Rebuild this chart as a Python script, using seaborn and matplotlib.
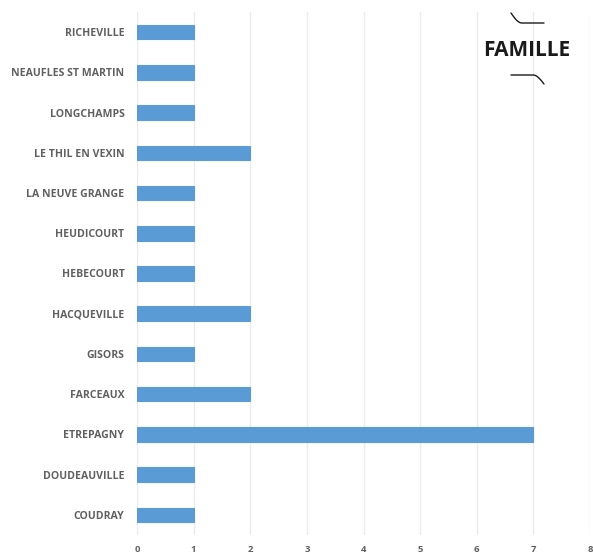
import matplotlib
matplotlib.use("Agg")
import matplotlib.pyplot as plt
import seaborn as sns
import pandas as pd
import numpy as np
from matplotlib.lines import Line2D

communes = ["RICHEVILLE", "NEAUFLES ST MARTIN", "LONGCHAMPS", "LE THIL EN VEXIN",
            "LA NEUVE GRANGE", "HEUDICOURT", "HEBECOURT", "HACQUEVILLE", "GISORS",
            "FARCEAUX", "ETREPAGNY", "DOUDEAUVILLE", "COUDRAY"]
valeurs = [1, 1, 1, 2, 1, 1, 1, 2, 1, 2, 7, 1, 1]
x_ticks = [0, 1, 2, 3, 4, 5, 6, 7, 8]
titre = "FAMILLE"

df = pd.DataFrame({"commune": communes, "valeur": valeurs})

sns.set_theme(style="white")
plt.rcParams['font.family'] = ['Open Sans', 'DejaVu Sans']

W, H = 593, 558
fig = plt.figure(figsize=(W / 100, H / 100), dpi=100)
ax = fig.add_axes([137 / W, 1 - 535 / H, (590 - 137) / W, (535 - 12) / H])

sns.barplot(data=df, x="valeur", y="commune", orient="h", color="#5B9BD5",
            width=0.36, saturation=1, ax=ax, zorder=3, edgecolor="#5B9BD5",
            linewidth=0.8)

ax.set_xlim(0, 8)
ax.set_xticks(x_ticks)
ax.set_xticklabels([str(t) for t in x_ticks])
ax.set_xlabel("")
ax.set_ylabel("")
ax.grid(axis="x", color="#EBEBEB", linewidth=1.0, zorder=0)
ax.grid(axis="y", visible=False)
for s in ax.spines.values():
    s.set_visible(False)
ax.tick_params(axis="y", length=0, pad=9, labelsize=7.6, labelcolor="#606060")
ax.tick_params(axis="x", length=0, pad=7, labelsize=6.8, labelcolor="#606060")
for lab in ax.get_yticklabels() + ax.get_xticklabels():
    lab.set_fontweight("bold")
    lab.set_fontstretch("condensed")

# Title with decorative strokes
fig.text(527 / W, 1 - 51 / H, titre, ha="center", va="center",
         fontsize=15, fontweight="bold", color="#1a1a1a")

def px(x, y):
    return x / W, 1 - y / H

t = np.linspace(0, 1, 20)
# top stroke
xs = list(511 + 11 * t) + [544]
ys = list(13 + 10 * np.sin(t * np.pi / 2)) + [23]
fx, fy = zip(*[px(a, b) for a, b in zip(xs, ys)])
fig.add_artist(Line2D(fx, fy, color="#1a1a1a", linewidth=1.0))
# bottom stroke
xs = [511] + list(533 + 11 * t)
ys = [75] + list(75 + 9 * (1 - np.cos(t * np.pi / 2)))
fx, fy = zip(*[px(a, b) for a, b in zip(xs, ys)])
fig.add_artist(Line2D(fx, fy, color="#1a1a1a", linewidth=1.0))

fig.savefig("out.png", dpi=100)
